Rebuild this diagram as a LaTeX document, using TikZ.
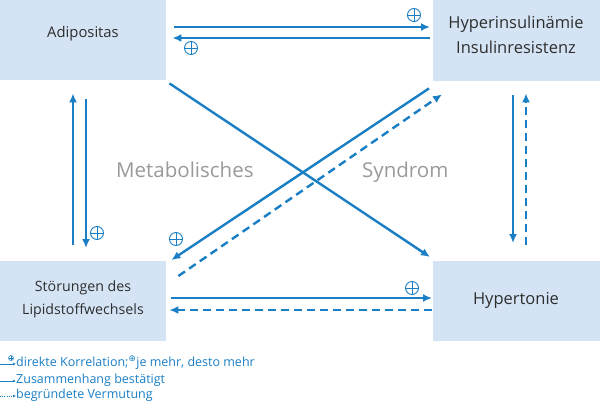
\documentclass[tikz,border=0pt]{standalone}
\usepackage{fontspec}
\setmainfont{Open Sans}
\newfontfamily\symfont{DejaVu Sans}
\usetikzlibrary{arrows.meta,calc}
\definecolor{arrowblue}{HTML}{1A7EC4}
\definecolor{boxblue}{HTML}{D4E4F5}
\definecolor{txtgray}{HTML}{2E2E2E}
\definecolor{metagray}{HTML}{9A9A9A}
\begin{document}
\begin{tikzpicture}[x=1pt,y=-1pt,
  box/.style={fill=boxblue, draw=none, anchor=north west, inner sep=0pt},
  lbl/.style={text=txtgray, align=center, inner sep=0pt},
  conn/.style={draw=arrowblue, line width=2.4pt, -{Latex[length=9pt,width=8pt]}},
  guess/.style={conn, dash pattern=on 8pt off 5pt},
  plussign/.style={circle, draw=arrowblue, line width=0.9pt, minimum size=13pt, inner sep=0pt,
    path picture={\draw[arrowblue,line width=0.9pt]
      (path picture bounding box.north) -- (path picture bounding box.south)
      (path picture bounding box.west) -- (path picture bounding box.east);}},
  meta/.style={font=\fontsize{20.5}{23}\selectfont, text=metagray, anchor=base west, inner sep=0pt},
  legend/.style={font=\fontsize{12.5}{14}\selectfont, text=arrowblue, anchor=base west, inner sep=0pt},
  legarr/.style={draw=arrowblue, line width=1pt, -{Latex[length=3pt,width=3pt]}},
]
\useasboundingbox (0,0) rectangle (600,402);
% boxes
\node[box, minimum width=166pt, minimum height=80pt] (adi) at (0,0) {};
\node[box, minimum width=167pt, minimum height=81pt] (hyp) at (433,0) {};
\node[box, minimum width=166pt, minimum height=80pt] (lip) at (0,261) {};
\node[box, minimum width=167pt, minimum height=80pt] (hton) at (433,261) {};
% labels
\node[lbl, font=\fontsize{14.8}{17}\selectfont] (adit) at (83,34) {Adipositas};
\node[lbl, font=\fontsize{16.5}{25}\selectfont] (hypt) at (516,35) {Hyperinsulinämie\\Insulinresistenz};
\node[lbl, font=\fontsize{14.2}{23}\selectfont] (lipt) at (83,299) {Störungen des\\Lipidstoffwechsels};
\node[lbl, font=\fontsize{16.5}{19}\selectfont] (htont) at (516,300) {Hypertonie};
% central text
\node[meta] (metat) at (116,177) {Metabolisches};
\node[meta] (synt) at (362,177) {Syndrom};
% connectors
\draw[conn] ($(adi.north east)+(8,27)$) -- ($(hyp.north west)+(-3,27)$);
\draw[conn] ($(hyp.north west)+(-3,38)$) -- ($(adi.north east)+(6,38)$);
\draw[conn] ($(lip.north west)+(73,-16)$) -- ($(adi.south west)+(73,13)$);
\draw[conn] ($(adi.south west)+(86,19)$) -- ($(lip.north west)+(86,-13)$);
\draw[conn] ($(hyp.south west)+(80,14)$) -- ($(hton.north west)+(80,-18)$);
\draw[guess] ($(hton.north west)+(93,-16)$) -- ($(hyp.south west)+(93,12)$);
\draw[conn] ($(lip.north east)+(5,37)$) -- ($(hton.north west)+(-1,37)$);
\draw[guess] ($(hton.north west)+(-1,49)$) -- ($(lip.north east)+(3,49)$);
\draw[conn] ($(adi.south east)+(3,3)$) -- ($(hton.north west)+(-3,-4)$);
\draw[conn] ($(hyp.south west)+(-4,7)$) -- ($(lip.north east)+(5,-1)$);
\draw[guess] ($(lip.north east)+(12,15)$) -- ($(hyp.south west)+(9,13)$);
% plus signs
\node[plussign] (p1) at (414,15) {};
\node[plussign] (p2) at (191,48) {};
\node[plussign] (p3) at (97,233) {};
\node[plussign] (p4) at (176,239) {};
\node[plussign] (p5) at (412,288) {};
% legend
\node[legend] (leg1) at (16,366) {direkte Korrelation;\textsuperscript{\symfont ⊕}je mehr, desto mehr};
\node[legend] (leg2) at (16,383) {Zusammenhang bestätigt};
\node[legend] (leg3) at (16,398) {begründete Vermutung};
\coordinate (l1) at (0,364);
\coordinate (l2) at (0,381);
\coordinate (l3) at (0,396);
\draw[legarr] (l1) -- (l1 -| leg1.west);
\draw[legarr] (l2) -- (l2 -| leg2.west);
\draw[legarr, dash pattern=on 1pt off 1.2pt] (l3) -- (l3 -| leg3.west);
\node[plussign, minimum size=5pt, line width=0.5pt] (lp) at (11,358) {};
\end{tikzpicture}
\end{document}
